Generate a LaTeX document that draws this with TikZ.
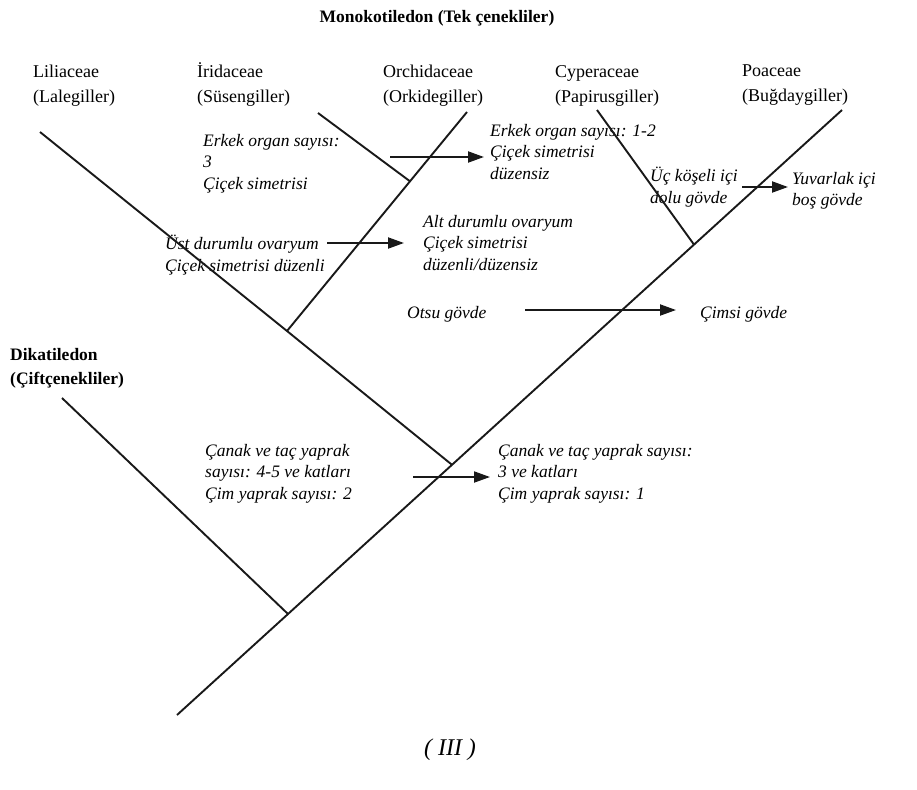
\documentclass[tikz,border=0pt]{standalone}
\usepackage{fontspec}
\setmainfont{Liberation Serif}
\usetikzlibrary{arrows.meta}
\begin{document}
\begin{tikzpicture}[x=1pt,y=-1pt,
  branch/.style={line width=1.9pt, draw=black!90},
  arr/.style={line width=1.9pt, draw=black!90, -{Triangle[length=16pt,width=11pt]}},
  taxon/.style={anchor=north west, inner sep=0pt, align=left, font=\fontsize{18}{25}\selectfont},
  trait/.style={anchor=north west, inner sep=0pt, align=left, font=\fontsize{17.5}{21.5}\selectfont\itshape},
  group/.style={anchor=north west, inner sep=0pt, align=left, font=\fontsize{17.5}{24}\selectfont\bfseries}]
\useasboundingbox[fill=white] (0,0) rectangle (917,789);

% title and group labels
\node[group, anchor=center] (mono) at (437,18) {Monokotiledon (Tek çenekliler)};
\node[group] (dik) at (10,348) {Dikatiledon\\(Çiftçenekliler)};

% taxa
\node[taxon] (lili) at (33,65) {Liliaceae\\(Lalegiller)};
\node[taxon] (iri) at (197,62) {İridaceae\\(Süsengiller)};
\node[taxon] (orch) at (383,65) {Orchidaceae\\(Orkidegiller)};
\node[taxon] (cyp) at (555,65) {Cyperaceae\\(Papirusgiller)};
\node[taxon] (poa) at (742,65) {Poaceae\\(Buğdaygiller)};

% traits
\node[trait] (t1) at (203,134) {Erkek organ sayısı:\\3\\Çiçek simetrisi};
\node[trait] (t2) at (490,124) {Erkek organ sayısı: 1-2\\Çiçek simetrisi\\düzensiz};
\node[trait] (t3) at (165,235) {Üst durumlu ovaryum\\Çiçek simetrisi düzenli};
\node[trait] (t4) at (423,215) {Alt durumlu ovaryum\\Çiçek simetrisi\\düzenli/düzensiz};
\node[trait] (t5) at (407,306) {Otsu gövde};
\node[trait] (t6) at (700,306) {Çimsi gövde};
\node[trait] (t7) at (650,167) {Üç köşeli içi\\dolu gövde};
\node[trait] (t8) at (792,172) {Yuvarlak içi\\boş gövde};
\node[trait] (t9) at (205,444) {Çanak ve taç yaprak\\sayısı: 4-5 ve katları\\Çim yaprak sayısı: 2};
\node[trait] (t10) at (498,444) {Çanak ve taç yaprak sayısı:\\3 ve katları\\Çim yaprak sayısı: 1};

\node[inner sep=0pt, font=\fontsize{24}{28}\selectfont\itshape] (fig) at (450,750) {( III )};

% tree coordinates
\coordinate (root) at (177,715);
\coordinate (dJ) at (288,614);
\coordinate (dTop) at (62,398);
\coordinate (lJ) at (452,464.8);
\coordinate (lTop) at (40,132);
\coordinate (oJ) at (287,331);
\coordinate (oTop) at (467,112);
\coordinate (iJ) at (410,181.3);
\coordinate (iTop) at (318,113);
\coordinate (cJ) at (694,244.6);
\coordinate (cTop) at (597,110);
\coordinate (pTop) at (842,110);

\draw[branch] (root) -- (dJ) -- (lJ) -- (cJ) -- (pTop);
\draw[branch] (dTop) -- (dJ);
\draw[branch] (lTop) -- (oJ) -- (lJ);
\draw[branch] (oJ) -- (iJ) -- (oTop);
\draw[branch] (iTop) -- (iJ);
\draw[branch] (cTop) -- (cJ);

% arrow coordinates
\coordinate (a1s) at (390,157); \coordinate (a1e) at (484,157);
\coordinate (a2s) at (327,243); \coordinate (a2e) at (404,243);
\coordinate (a3s) at (742,187); \coordinate (a3e) at (788,187);
\coordinate (a4s) at (525,310); \coordinate (a4e) at (676,310);
\coordinate (a5s) at (413,477); \coordinate (a5e) at (490,477);

\draw[arr] (a1s) -- (a1e);
\draw[arr] (a2s) -- (a2e);
\draw[arr] (a3s) -- (a3e);
\draw[arr] (a4s) -- (a4e);
\draw[arr] (a5s) -- (a5e);
\end{tikzpicture}
\end{document}
